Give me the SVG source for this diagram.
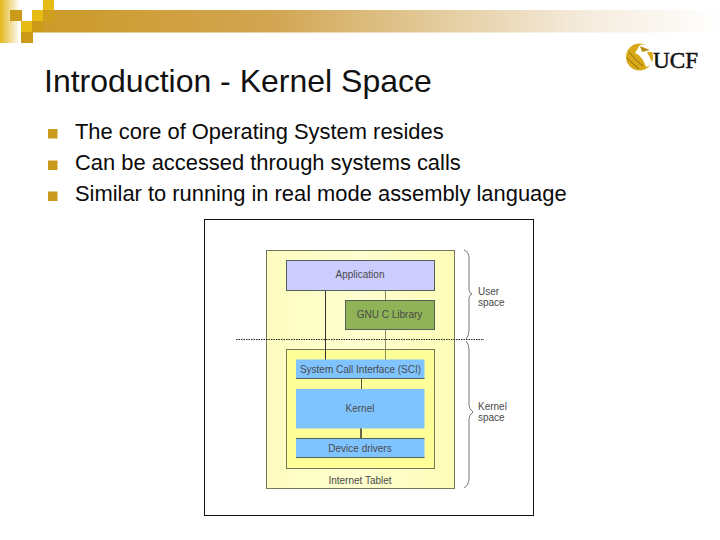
<svg xmlns="http://www.w3.org/2000/svg" width="720" height="540" viewBox="0 0 720 540">
<defs>
<linearGradient id="band" x1="0" x2="1" y1="0" y2="0"><stop offset="0" stop-color="#cb9a26"/><stop offset="0.35" stop-color="#d2a552"/><stop offset="0.55" stop-color="#e0c590"/><stop offset="0.8" stop-color="#f5ebdc"/><stop offset="1" stop-color="#ffffff"/></linearGradient>
<linearGradient id="strip" x1="0" x2="1" y1="0" y2="0"><stop offset="0" stop-color="#e2b61a"/><stop offset="1" stop-color="#ffffff"/></linearGradient>
<linearGradient id="yel" x1="0" x2="1" y1="0" y2="0"><stop offset="0" stop-color="#fdfdc0"/><stop offset="0.5" stop-color="#ffffd0"/><stop offset="1" stop-color="#fdfdb8"/></linearGradient>
</defs>
<style>
text{font-family:"Liberation Sans",Arial,sans-serif}
.t{font-size:32px;fill:#111}
.b{font-size:21.900px;fill:#0a0a0a}
.bu{fill:#c99a1e}
.n{font-size:10px;fill:#4a4a4a;text-anchor:middle}
.box{stroke:#56605a;stroke-width:1}
.blue{fill:#80c4ff}
.brace{fill:none;stroke:#777;stroke-width:1}
.conn{stroke:#333;fill:none}
</style>
<g id="decor">
<rect x="0" y="0" width="20" height="43" fill="url(#strip)"/>
<rect x="32" y="10" width="688" height="22.500" fill="url(#band)"/>
<rect x="10" y="10" width="12" height="11" fill="#cb9a18"/>
<rect x="21" y="21" width="11" height="11" fill="#e6bb14"/>
<rect x="32" y="10" width="11" height="11" fill="#e6bb14"/>
<rect x="43" y="0" width="11" height="10" fill="#e6bb14"/>
<rect x="43" y="10" width="11" height="11" fill="#cfa01c"/>
<rect x="32" y="21" width="11" height="11" fill="#cb9a18"/>
<rect x="21" y="32" width="12" height="11" fill="#cb9a18"/>
</g>
<g id="logo">
<circle cx="639.500" cy="57" r="13.500" fill="#d9a816"/>
<path d="M640 45 C647 43 653 47 654 52 L647 52 C649 56 651 60 653 64 L646 67 C644 60 640 55 635 53Z" fill="#fff"/>
<path d="M640 46 L650 50 L642 52Z" fill="#b98f12"/>
<path d="M629 52 Q635 60 643 66 M627 58 Q633 64 639 69" stroke="#8a6a10" stroke-width="1" fill="none"/>
<text x="653" y="68" font-size="23" textLength="45" lengthAdjust="spacingAndGlyphs" stroke="#111" stroke-width="0.500" style="font-family:'Liberation Serif',serif;fill:#111">UCF</text>
</g>
<g id="title"><text class="t" x="44" y="92">Introduction - Kernel Space</text></g>
<g id="bullets">
<rect class="bu" x="48" y="129" width="9.500" height="9.500"/>
<rect class="bu" x="48" y="160.500" width="9.500" height="9.500"/>
<rect class="bu" x="48" y="191.500" width="9.500" height="9.500"/>
<text class="b" x="75" y="139">The core of Operating System resides</text>
<text class="b" x="75" y="170">Can be accessed through systems calls</text>
<text class="b" x="75" y="201">Similar to running in real mode assembly language</text>
</g>
<rect id="frame" x="204.500" y="219.500" width="329" height="296" fill="#fff" stroke="#111" stroke-width="1"/>
<g id="tablet"><rect class="box" x="266.500" y="250.500" width="188" height="238" fill="url(#yel)" style="stroke:#77775a"/><text class="n" x="360" y="484">Internet Tablet</text></g>
<g id="kernel-area"><rect class="box" x="286.500" y="349.500" width="148" height="119" fill="#ffff99" style="stroke:#77775a"/></g>
<g id="connectors">
<line class="conn" x1="325.500" y1="290" x2="325.500" y2="360" stroke-width="1"/>
<line class="conn" x1="385.500" y1="290" x2="385.500" y2="360" style="stroke:#8a8a6a" stroke-width="1"/>
<line class="conn" x1="361.500" y1="379" x2="361.500" y2="389" style="stroke:#555" stroke-width="1"/>
<line class="conn" x1="361" y1="428" x2="361" y2="439" stroke-width="1.500"/>
</g>
<g id="application"><rect class="box" x="286.500" y="260.500" width="148" height="30" fill="#ccccff"/><text class="n" x="360" y="278">Application</text></g>
<g id="gnu"><rect class="box" x="345.500" y="300.500" width="89" height="29" fill="#8fb356"/><text class="n" x="389.500" y="318">GNU C Library</text></g>
<g id="sci"><rect class="blue" x="296" y="359.500" width="128.500" height="19.500"/><line x1="296" y1="378.500" x2="424.500" y2="378.500" stroke="#56605a"/><text class="n" x="360.500" y="373">System Call Interface (SCI)</text></g>
<g id="kernel"><rect class="blue" x="296" y="389" width="128.500" height="39.500"/><text class="n" x="360" y="412">Kernel</text></g>
<g id="drivers"><rect class="blue" x="296" y="438.500" width="128.500" height="19.500"/><line x1="296" y1="438.500" x2="424.500" y2="438.500" stroke="#56605a"/><line x1="296" y1="457.500" x2="424.500" y2="457.500" stroke="#56605a"/><text class="n" x="360" y="452">Device drivers</text></g>
<line id="boundary" x1="236" y1="339.500" x2="484" y2="339.500" stroke="#222" stroke-width="1" stroke-dasharray="1.500 1"/>
<g id="user-space">
<path class="brace" d="M464 250 Q469 252 469 258 L469 290 Q469 293 472 294 Q469 295 469 298 L469 330 Q469 336 466 339"/>
<text class="n" x="478" y="295" style="text-anchor:start">User</text><text class="n" x="478" y="306" style="text-anchor:start">space</text>
</g>
<g id="kernel-space">
<path class="brace" d="M466 341 Q469 344 469 350 L469 405 Q469 409 473 412 Q469 415 469 419 L469 478 Q469 485 464 488"/>
<text class="n" x="478" y="410" style="text-anchor:start">Kernel</text><text class="n" x="478" y="421" style="text-anchor:start">space</text>
</g>
</svg>
